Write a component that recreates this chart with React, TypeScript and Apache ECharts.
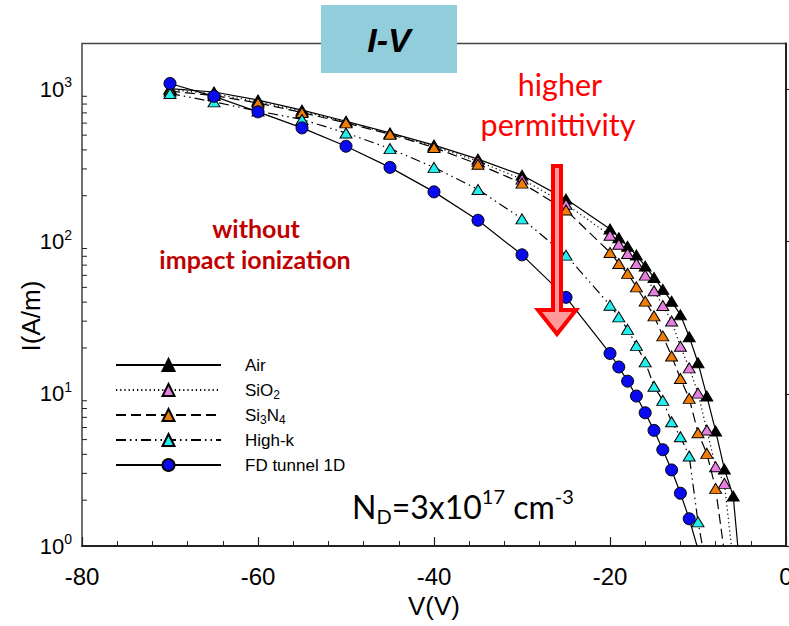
import React, { useEffect, useRef } from 'react';
import * as echarts from 'echarts';

// ---------- data (V in volts, I in A/m) ----------
const coarseV = [-70, -65, -60, -55, -50, -45, -40, -35, -30, -25];

const airV = [...coarseV, -20, -19, -18, -17, -16, -15, -14, -13, -12, -11, -10, -9, -8, -7, -6, -5];
const airI = [1010, 960, 850, 730, 617, 517, 430, 348, 273, 190, 121, 106, 93, 81.5, 69, 58, 48.5, 40.5, 33, 23.7, 16, 9.66, 5.7, 3.2, 2.13, 0.5];

const sio2V = [...coarseV, -20, -19, -18, -17, -16, -15, -14, -13, -12, -11, -10, -9, -8, -7, -6];
const sio2I = [995, 935, 830, 716, 610, 512, 422, 337, 257, 176, 110, 96, 83.5, 71.8, 60.2, 47.5, 38, 30.1, 20.5, 14.8, 10.1, 5.78, 3.32, 2.58, 0.78];

const si3n4V = [...coarseV, -20, -19, -18, -17, -16, -15, -14, -13, -12, -11, -10, -9, -8, -7];
const si3n4I = [975, 910, 814, 704, 602, 507, 415, 322, 242, 161, 84.8, 71.8, 61.8, 50.4, 40.6, 32.5, 24, 17.7, 12.6, 9.33, 5.55, 4.06, 2.39, 0.9];

const highkV = [...coarseV, -20, -19, -18, -17, -16, -15, -14, -13, -12, -11, -10, -9];
const highkI = [939, 827, 720, 634, 517, 408, 307, 220, 141, 81.4, 38.2, 32, 26.5, 20.8, 16.2, 11.2, 9.05, 6.55, 5.22, 3.9, 1.44, 0.7];

const fdV = [...coarseV, -20, -19, -18, -17, -16, -15, -14, -13, -12, -11, -10];
const fdI = [1092, 899, 711, 558, 423, 307, 212, 138, 81.8, 43, 18.4, 15, 12.1, 9.66, 7.5, 5.75, 4.29, 3.16, 2.22, 1.51, 0.95];

const seriesNames = ['Air', 'SiO2', 'Si3N4', 'High-k', 'FD tunnel 1D'];
const legendLabels: Record<string, string> = {
  'Air': 'Air',
  'SiO2': 'SiO{sub|2}',
  'Si3N4': 'Si{sub|3}N{sub|4}',
  'High-k': 'High-k',
  'FD tunnel 1D': 'FD tunnel 1D',
};

const xMin = -80;
const xMax = 0;
const xInterval = 20;
const yMin = 1;
const yMax = 2000;
const yDecades = [1, 10, 100, 1000];
const yMinorMultipliers = [2, 3, 4, 5, 6, 7, 8, 9];

function pairs(v: number[], i: number[]) {
  return v.map((x, k) => [x, i[k]]);
}

const AXIS_FONT = '"Liberation Sans", Arial, sans-serif';
const CAL_FONT = 'Lato, "Open Sans", sans-serif';

export default function App() {
  const ref = useRef<HTMLDivElement>(null);

  useEffect(() => {
    document.body.style.margin = '0';
    document.body.style.overflow = 'hidden';
    if (!ref.current) return;
    const chart = echarts.init(ref.current, undefined, { renderer: 'svg' });

    const minorTickData: number[][] = [];
    yDecades.forEach((d) => {
      yMinorMultipliers.forEach((m) => {
        const v = m * d;
        if (v < yMax) minorTickData.push([xMin, v]);
      });
    });

    const mkLine = (
      name: string,
      data: number[][],
      symbol: string,
      size: number | number[],
      fill: string,
      dash: any,
      z: number
    ) => ({
      name,
      type: 'line',
      data,
      symbol,
      symbolSize: size,
      showSymbol: true,
      clip: true,
      z,
      itemStyle: { color: fill, borderColor: '#000', borderWidth: 1 },
      lineStyle: { color: '#000', width: 1.2, type: dash },
      emphasis: { disabled: true },
    });

    const option: any = {
      animation: false,
      grid: {
        left: 82,
        right: 3,
        top: 43.5,
        bottom: 80,
        outerBoundsMode: 'none',
        containLabel: false,
        show: true,
        borderColor: '#444',
        borderWidth: 1.5,
        backgroundColor: 'transparent',
      },
      legend: {
        data: seriesNames,
        orient: 'vertical',
        left: 115,
        top: 354,
        padding: 0,
        itemWidth: 105,
        itemHeight: 15,
        itemGap: 3,
        selectedMode: false,
        formatter: (name: string) => legendLabels[name] || name,
        textStyle: {
          fontFamily: AXIS_FONT,
          fontSize: 17,
          color: '#000',
          lineHeight: 22,
          padding: [0, 0, 0, 19],
          rich: {
            sub: { fontFamily: AXIS_FONT, fontSize: 12, lineHeight: 11, verticalAlign: 'bottom', color: '#000' },
          },
        },
      },
      xAxis: {
        type: 'value',
        min: xMin,
        max: xMax,
        interval: xInterval,
        name: 'V(V)',
        nameLocation: 'middle',
        nameGap: 45,
        nameTextStyle: { fontFamily: AXIS_FONT, fontSize: 26, color: '#000' },
        axisLine: { show: true, onZero: false, lineStyle: { color: '#222', width: 2 } },
        axisTick: { show: true, inside: true, length: 9, lineStyle: { color: '#222', width: 1.2 } },
        minorTick: { show: true, splitNumber: 5, length: 5, lineStyle: { color: '#222', width: 1 } },
        splitLine: { show: false },
        axisLabel: { margin: 18, fontFamily: AXIS_FONT, fontSize: 24, color: '#000' },
      },
      yAxis: {
        type: 'log',
        logBase: 10,
        min: yMin,
        max: yMax,
        axisLine: { show: true, lineStyle: { color: '#222', width: 2 } },
        axisTick: { show: true, inside: true, length: 8, lineStyle: { color: '#222', width: 1.2 } },
        splitLine: { show: false },
        axisLabel: {
          margin: 10,
          showMaxLabel: false,
          formatter: (v: number) => {
            const l = Math.log10(v);
            const e = Math.round(l);
            if (Math.abs(l - e) > 1e-6) return '';
            return '{b|10}{s|' + e + '}';
          },
          rich: {
            b: { fontFamily: AXIS_FONT, fontSize: 22, lineHeight: 28, color: '#000' },
            s: { fontFamily: AXIS_FONT, fontSize: 14, lineHeight: 14, verticalAlign: 'top', color: '#000' },
          },
        },
      },
      series: [
        {
          name: 'yMinorTicks',
          type: 'custom',
          silent: true,
          data: minorTickData,
          z: 1,
          renderItem: (params: any, api: any) => {
            const p = api.coord([api.value(0), api.value(1)]);
            return {
              type: 'line',
              shape: { x1: p[0], y1: p[1], x2: p[0] + 5, y2: p[1] },
              style: { stroke: '#222', lineWidth: 1 },
            };
          },
        },
        mkLine('Air', pairs(airV, airI), 'triangle', [12, 10], '#000000', 'solid', 2),
        mkLine('SiO2', pairs(sio2V, sio2I), 'triangle', [12, 10], '#E67FE0', [1.2, 3], 3),
        mkLine('Si3N4', pairs(si3n4V, si3n4I), 'triangle', [12, 10], '#F07D0A', [10, 5], 4),
        mkLine('High-k', pairs(highkV, highkI), 'triangle', [12, 10], '#22EEEE', [10, 4, 1.5, 4, 1.5, 4], 5),
        mkLine('FD tunnel 1D', pairs(fdV, fdI), 'circle', 12, '#0A0AF0', 'solid', 6),
      ],
      graphic: [
        {
          type: 'rect',
          z: 100,
          shape: { x: 321, y: 5, width: 136, height: 68 },
          style: { fill: '#92CDDC' },
        },
        {
          type: 'text',
          z: 101,
          x: 389,
          y: 40,
          style: {
            text: 'I-V',
            fontFamily: AXIS_FONT,
            fontSize: 34,
            fontWeight: 'bold',
            fontStyle: 'italic',
            fill: '#000',
            align: 'center',
            verticalAlign: 'middle',
          },
        },
        {
          type: 'text',
          z: 100,
          x: 560,
          y: 84,
          style: { text: 'higher', fontFamily: CAL_FONT, fontSize: 30.5, fill: '#FF0000', align: 'center', verticalAlign: 'middle' },
        },
        {
          type: 'text',
          z: 100,
          x: 558,
          y: 124,
          style: { text: 'permittivity', fontFamily: CAL_FONT, fontSize: 30.5, fill: '#FF0000', align: 'center', verticalAlign: 'middle' },
        },
        {
          type: 'polygon',
          z: 100,
          shape: {
            points: [
              [553, 166], [561, 166], [561, 310], [576, 310], [557, 334], [538, 310], [553, 310],
            ],
          },
          style: { fill: '#FF9A9A', stroke: '#FF0000', lineWidth: 4, lineJoin: 'miter' },
        },
        {
          type: 'text',
          z: 100,
          x: 256,
          y: 228,
          style: { text: 'without', fontFamily: CAL_FONT, fontSize: 25, fontWeight: 'bold', fill: '#C00000', align: 'center', verticalAlign: 'middle' },
        },
        {
          type: 'text',
          z: 100,
          x: 255,
          y: 259,
          style: { text: 'impact ionization', fontFamily: CAL_FONT, fontSize: 25, fontWeight: 'bold', fill: '#C00000', align: 'center', verticalAlign: 'middle' },
        },
        {
          type: 'text',
          z: 100,
          x: 352,
          y: 506,
          style: {
            text: '{b|N}{sub|D}{b|=3x10}{sup|17}{b| cm}{sup|-3}',
            align: 'left',
            verticalAlign: 'middle',
            rich: {
              b: { fontFamily: CAL_FONT, fontSize: 32, lineHeight: 40, fill: '#000', color: '#000' },
              sub: { fontFamily: CAL_FONT, fontSize: 20, lineHeight: 16, verticalAlign: 'bottom', fill: '#000', color: '#000' },
              sup: { fontFamily: CAL_FONT, fontSize: 20, lineHeight: 24, verticalAlign: 'top', fill: '#000', color: '#000' },
            },
          },
        },
        {
          type: 'text',
          z: 100,
          x: 31,
          y: 316,
          rotation: Math.PI / 2,
          style: { text: 'I(A/m)', fontFamily: AXIS_FONT, fontSize: 26, fill: '#000', align: 'center', verticalAlign: 'middle' },
        },
      ],
    };

    chart.setOption(option);
    return () => {
      chart.dispose();
    };
  }, []);

  return <div ref={ref} style={{ width: 789, height: 626, overflow: 'hidden' }} />;
}
